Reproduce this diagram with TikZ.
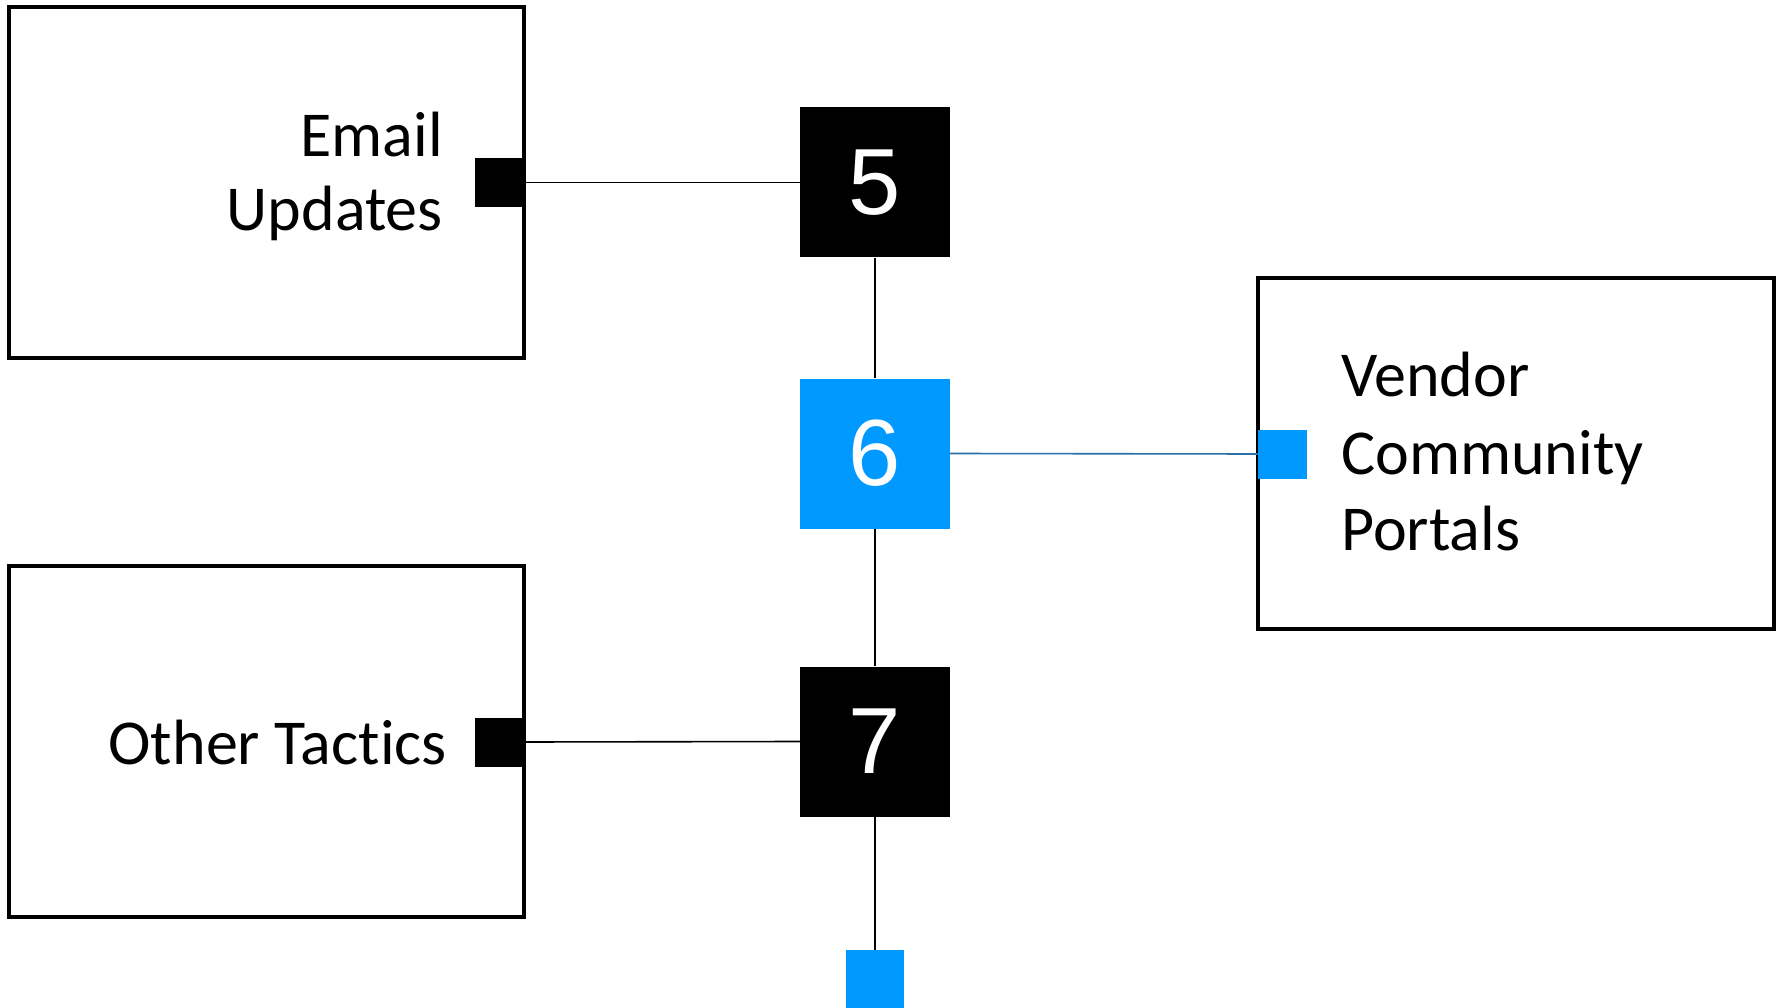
\documentclass[tikz,border=0pt]{standalone}
\usepackage{fontspec}
\setmainfont{Carlito}[Ligatures=NoCommon]
\newfontfamily\numfont{Liberation Sans}
\definecolor{accent}{HTML}{0099FF}
\definecolor{bluelink}{HTML}{2A6FA8}
\begin{document}
\begin{tikzpicture}[x=1pt,y=-1pt,
  bigbox/.style={draw=black,line width=3.2pt,fill=white,minimum width=515pt,minimum height=351pt,inner sep=0pt},
  numbox/.style={fill=black,minimum width=150pt,minimum height=150pt,inner sep=0pt,text=white,font=\numfont\fontsize{94}{94}\selectfont},
  port/.style={fill=black,minimum width=49pt,minimum height=49pt,inner sep=0pt},
  label/.style={font=\fontsize{64}{72}\selectfont,inner sep=0pt},
  conn/.style={line width=1.6pt,draw=black}
]
\useasboundingbox (0,0) rectangle (1781,1008);
% boxes
\node[bigbox] (email) at (266.5,182.5) {};
\node[bigbox] (other) at (266.5,741.5) {};
\node[bigbox,minimum width=516pt] (vendor) at (1516,453.5) {};
% ports
\node[port] (pe) at (499.5,182.5) {};
\node[port] (po) at (499.5,742) {};
\node[port,fill=accent] (pv) at (1282.5,454) {};
% number boxes
\node[numbox] (n5) at (875,182.5) {5};
\node[numbox,fill=accent] (n6) at (875,453.5) {6};
\node[numbox] (n7) at (875,741.5) {7};
\node[port,fill=accent,minimum width=58pt,minimum height=58pt] (nb) at (875,979) {};
% connectors
\draw[conn] (pe.east) -- (n5.west);
\draw[conn] (po.east) -- (n7.west);
\draw[conn] (n5.south) -- (n6.north);
\draw[conn] (n6.south) -- (n7.north);
\draw[conn] (n7.south) -- (nb.north);
\draw[line width=1.6pt,draw=bluelink] (n6.east) -- (pv.west);
% labels
\node[label,anchor=base east] (t1) at (443,157) {Email};
\node[label,anchor=base east] (t2) at (443,231) {Updates};
\node[label,anchor=base east] (t3) at (447,764) {Other Tactics};
\node[label,anchor=base west] (t4) at (1341,396) {Vendor};
\node[label,anchor=base west] (t5) at (1341,474) {Community};
\node[label,anchor=base west] (t6) at (1341,550) {Portals};
\end{tikzpicture}
\end{document}
